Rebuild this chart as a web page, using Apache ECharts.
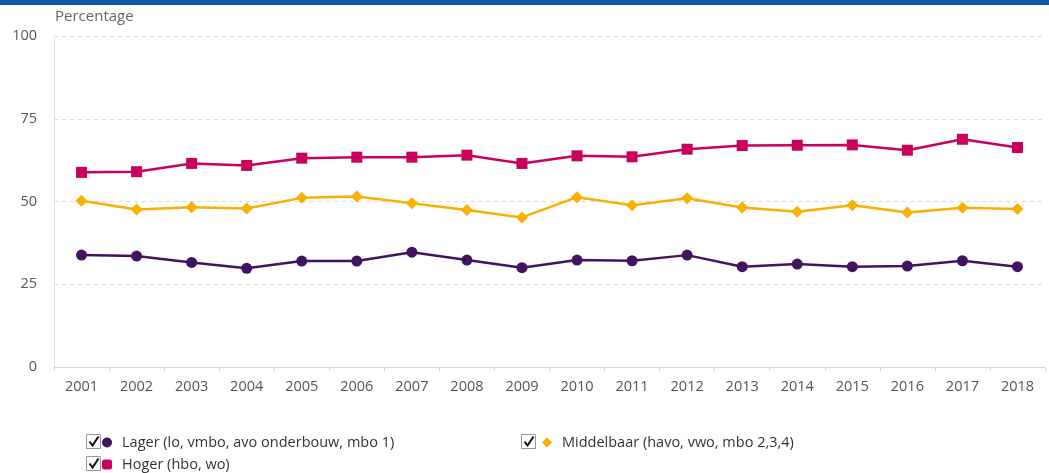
<!DOCTYPE html>
<html><head><meta charset="utf-8">
<script src="https://cdn.jsdelivr.net/npm/echarts@6/dist/echarts.min.js"></script>
<style>html,body{margin:0;padding:0;background:#fff}#c{width:1049px;height:473px}</style>
</head><body><div id="c"></div>
<script>
const years = ['2001','2002','2003','2004','2005','2006','2007','2008','2009','2010','2011','2012','2013','2014','2015','2016','2017','2018'];
const lager = [33.8,33.5,31.6,29.8,32.0,32.0,34.7,32.3,30.0,32.3,32.1,33.8,30.3,31.1,30.3,30.5,32.1,30.3];
const middelbaar = [50.2,47.6,48.3,47.9,51.1,51.5,49.5,47.4,45.2,51.3,48.9,51.0,48.2,46.9,48.9,46.7,48.1,47.7];
const hoger = [58.8,59.0,61.5,60.9,63.1,63.4,63.4,64.0,61.5,63.8,63.5,65.8,66.9,67.0,67.1,65.5,68.8,66.3];
const names = ['Lager (lo, vmbo, avo onderbouw, mbo 1)','Middelbaar (havo, vwo, mbo 2,3,4)','Hoger (hbo, wo)'];
const colors = ['#42145f','#f9b000','#ca005d'];
const yTicks = [0,25,50,75,100];

const font = '"Open Sans", sans-serif';
const chart = echarts.init(document.getElementById('c'));
function checkbox(x, y) {
  return {
    type: 'group', left: x, top: y, children: [
      {type: 'rect', shape: {x: 0, y: 0, width: 14, height: 14}, style: {fill: '#fff', stroke: '#999', lineWidth: 1}},
      {type: 'polyline', shape: {points: [[3, 7], [6, 11], [12, 2]]}, style: {stroke: '#111', lineWidth: 2, fill: null}}
    ]
  };
}
const legendBase = {
  itemWidth: 10, itemHeight: 10, itemGap: 8,
  textStyle: {fontFamily: font, fontSize: 14.5, color: '#333', padding: [0, 0, 0, 5]},
  selectedMode: false
};
chart.setOption({
  animation: false,
  backgroundColor: '#fff',
  textStyle: {fontFamily: font},
  grid: {left: 54, right: 4, top: 36, bottom: 106},
  graphic: [
    {type: 'rect', left: 0, top: 0, shape: {width: 1049, height: 5}, style: {fill: '#0e5aa7'}},
    {type: 'text', left: 55, top: 9, style: {text: 'Percentage', fontFamily: font, fontSize: 15, fill: '#666'}},
    checkbox(86, 434), checkbox(521, 434), checkbox(86, 456)
  ],
  legend: [
    Object.assign({}, legendBase, {data: [{name: names[0], icon: 'circle'}], left: 97, top: 430}),
    Object.assign({}, legendBase, {data: [{name: names[1], icon: 'diamond'}], left: 537, top: 430}),
    Object.assign({}, legendBase, {data: [{name: names[2], icon: 'roundRect'}], left: 97, top: 452})
  ],
  xAxis: {
    type: 'category', data: years, boundaryGap: true,
    axisLine: {lineStyle: {color: '#d6d6d6', width: 1}},
    axisTick: {show: true, lineStyle: {color: '#d6d6d6'}, length: 4},
    axisLabel: {color: '#555', fontSize: 14.5, fontFamily: font, margin: 12}
  },
  yAxis: {
    type: 'value', min: yTicks[0], max: yTicks[yTicks.length - 1], interval: 25,
    axisLine: {show: true, lineStyle: {color: '#e3e3e3'}},
    axisTick: {show: false},
    axisLabel: {color: '#555', fontSize: 14.5, fontFamily: font, margin: 17},
    splitLine: {show: true, lineStyle: {color: '#d9d9d9', type: [4, 4]}}
  },
  series: [
    {name: names[0], type: 'line', data: lager, color: colors[0], symbol: 'circle', symbolSize: 11,
     lineStyle: {width: 2.5}},
    {name: names[1], type: 'line', data: middelbaar, color: colors[1], symbol: 'diamond', symbolSize: 12,
     lineStyle: {width: 2.5}},
    {name: names[2], type: 'line', data: hoger, color: colors[2], symbol: 'rect', symbolSize: 11,
     lineStyle: {width: 2.5}}
  ]
});
</script></body></html>
